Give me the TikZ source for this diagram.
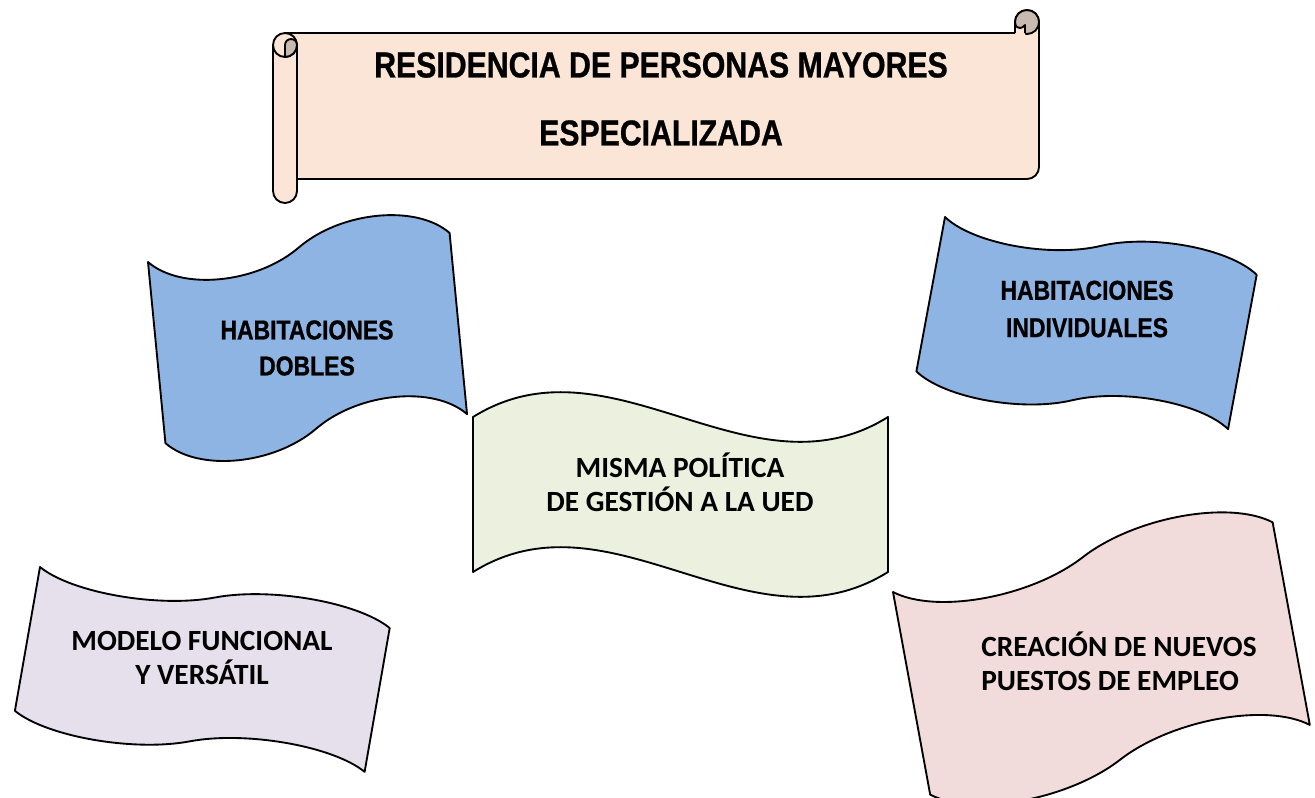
\documentclass[tikz,border=0pt]{standalone}
\usepackage{fontspec}
\newfontfamily\narrowfont[FakeStretch=0.84, FakeBold=0.8]{Liberation Sans}
\newfontfamily\calfont{Carlito}

\definecolor{scrollfill}{HTML}{FBE5D6}
\definecolor{curlfill}{HTML}{C9BAB0}
\definecolor{bluefill}{HTML}{8EB4E3}
\definecolor{greenfill}{HTML}{EBF1DE}
\definecolor{lilacfill}{HTML}{E5E0EC}
\definecolor{pinkfill}{HTML}{F2DCDB}

\tikzset{
  outline/.style={draw=black, line width=1.4pt, line join=round},
  titletext/.style={font=\narrowfont\bfseries\fontsize{27}{51}\selectfont, align=center},
  narrowtext/.style={font=\narrowfont\bfseries\fontsize{20.5}{27}\selectfont, align=center},
  caltext/.style={font=\calfont\bfseries\fontsize{22}{25.5}\selectfont, align=center}
}

% #1 fill, #2 top left corner, #3 angle, #4 width, #5 height, #6 bend
\newcommand\wavyflag[6]{%
  \draw[outline, fill=#1, shift={#2}, rotate=#3]
    (0,0) .. controls (0.1*#4,#6) and (0.35*#4,#6) .. (0.5*#4,0)
    .. controls (0.65*#4,-#6) and (0.9*#4,-#6) .. (#4,0)
    -- (#4,#5) .. controls (0.9*#4,#5-#6) and (0.65*#4,#5-#6) .. (0.5*#4,#5)
    .. controls (0.35*#4,#5+#6) and (0.1*#4,#5+#6) .. (0,#5) -- cycle;}

\begin{document}
\begin{tikzpicture}[x=0.75pt, y=-0.75pt]

  \useasboundingbox (0,0) rectangle (1315,797);

  % scroll
  \draw[outline, fill=scrollfill]
  (285,33) -- (1015,33) -- (1015,22) arc[start angle=180, end angle=360, radius=12]
  -- (1039,167) arc[start angle=0, end angle=90, radius=12] -- (297,179) -- (285,179) -- cycle;
  \draw[outline, fill=curlfill] (1027,22) circle[radius=12];
  \fill[scrollfill] (1015,35) -- (1015,25) .. controls (1018,29) and (1022,29) .. (1025,25) -- (1025,35) -- cycle;
  \draw[outline] (1015,33) -- (1015,25) .. controls (1018,29) and (1022,29) .. (1025,25) -- (1025,33);
  \draw[outline] (1039,22) -- (1039,40);

  \draw[outline, fill=scrollfill]
  (273,45) -- (273,191) arc[start angle=180, end angle=0, radius=12]
  -- (297,45) arc[start angle=0, end angle=-180, radius=12] -- cycle;
  \draw[outline] (273,45) arc[start angle=180, end angle=0, radius=12];
  \draw[outline, fill=curlfill]
  (285,57) -- (285,45) arc[start angle=180, end angle=360, radius=6]
  arc[start angle=0, end angle=90, radius=12] -- cycle;

  \node[titletext] (title) at (661,99)
  {RESIDENCIA DE PERSONAS MAYORES\\ESPECIALIZADA};

  % flags
  \wavyflag{bluefill}{(148,262)}{5.5}{303}{182}{32}
  \wavyflag{bluefill}{(945,217)}{-10.5}{317}{157}{21}
  \wavyflag{lilacfill}{(40,567)}{-9.9}{355}{146}{20}
  \wavyflag{pinkfill}{(893,592)}{10.4}{386}{206}{30}

  \draw[outline, fill=greenfill]
  (473,417) .. controls (611,331) and (750,503) .. (888,417)
  -- (888,572) .. controls (750,658) and (611,486) .. (473,572) -- cycle;

  \node[narrowtext] (dobles) at (307,348) {HABITACIONES\\DOBLES};
  \node[narrowtext, font=\narrowfont\bfseries\fontsize{20.5}{28}\selectfont] (individuales) at (1087,309) {HABITACIONES\\INDIVIDUALES};
  \node[caltext] (politica) at (680,482) {MISMA POLÍTICA\\DE GESTIÓN A LA UED};
  \node[caltext] (modelo) at (202,658) {MODELO FUNCIONAL\\Y VERSÁTIL};
  \node[caltext, align=left] (empleo) at (1119,661) {CREACIÓN DE NUEVOS\\PUESTOS DE EMPLEO};

\end{tikzpicture}
\end{document}
